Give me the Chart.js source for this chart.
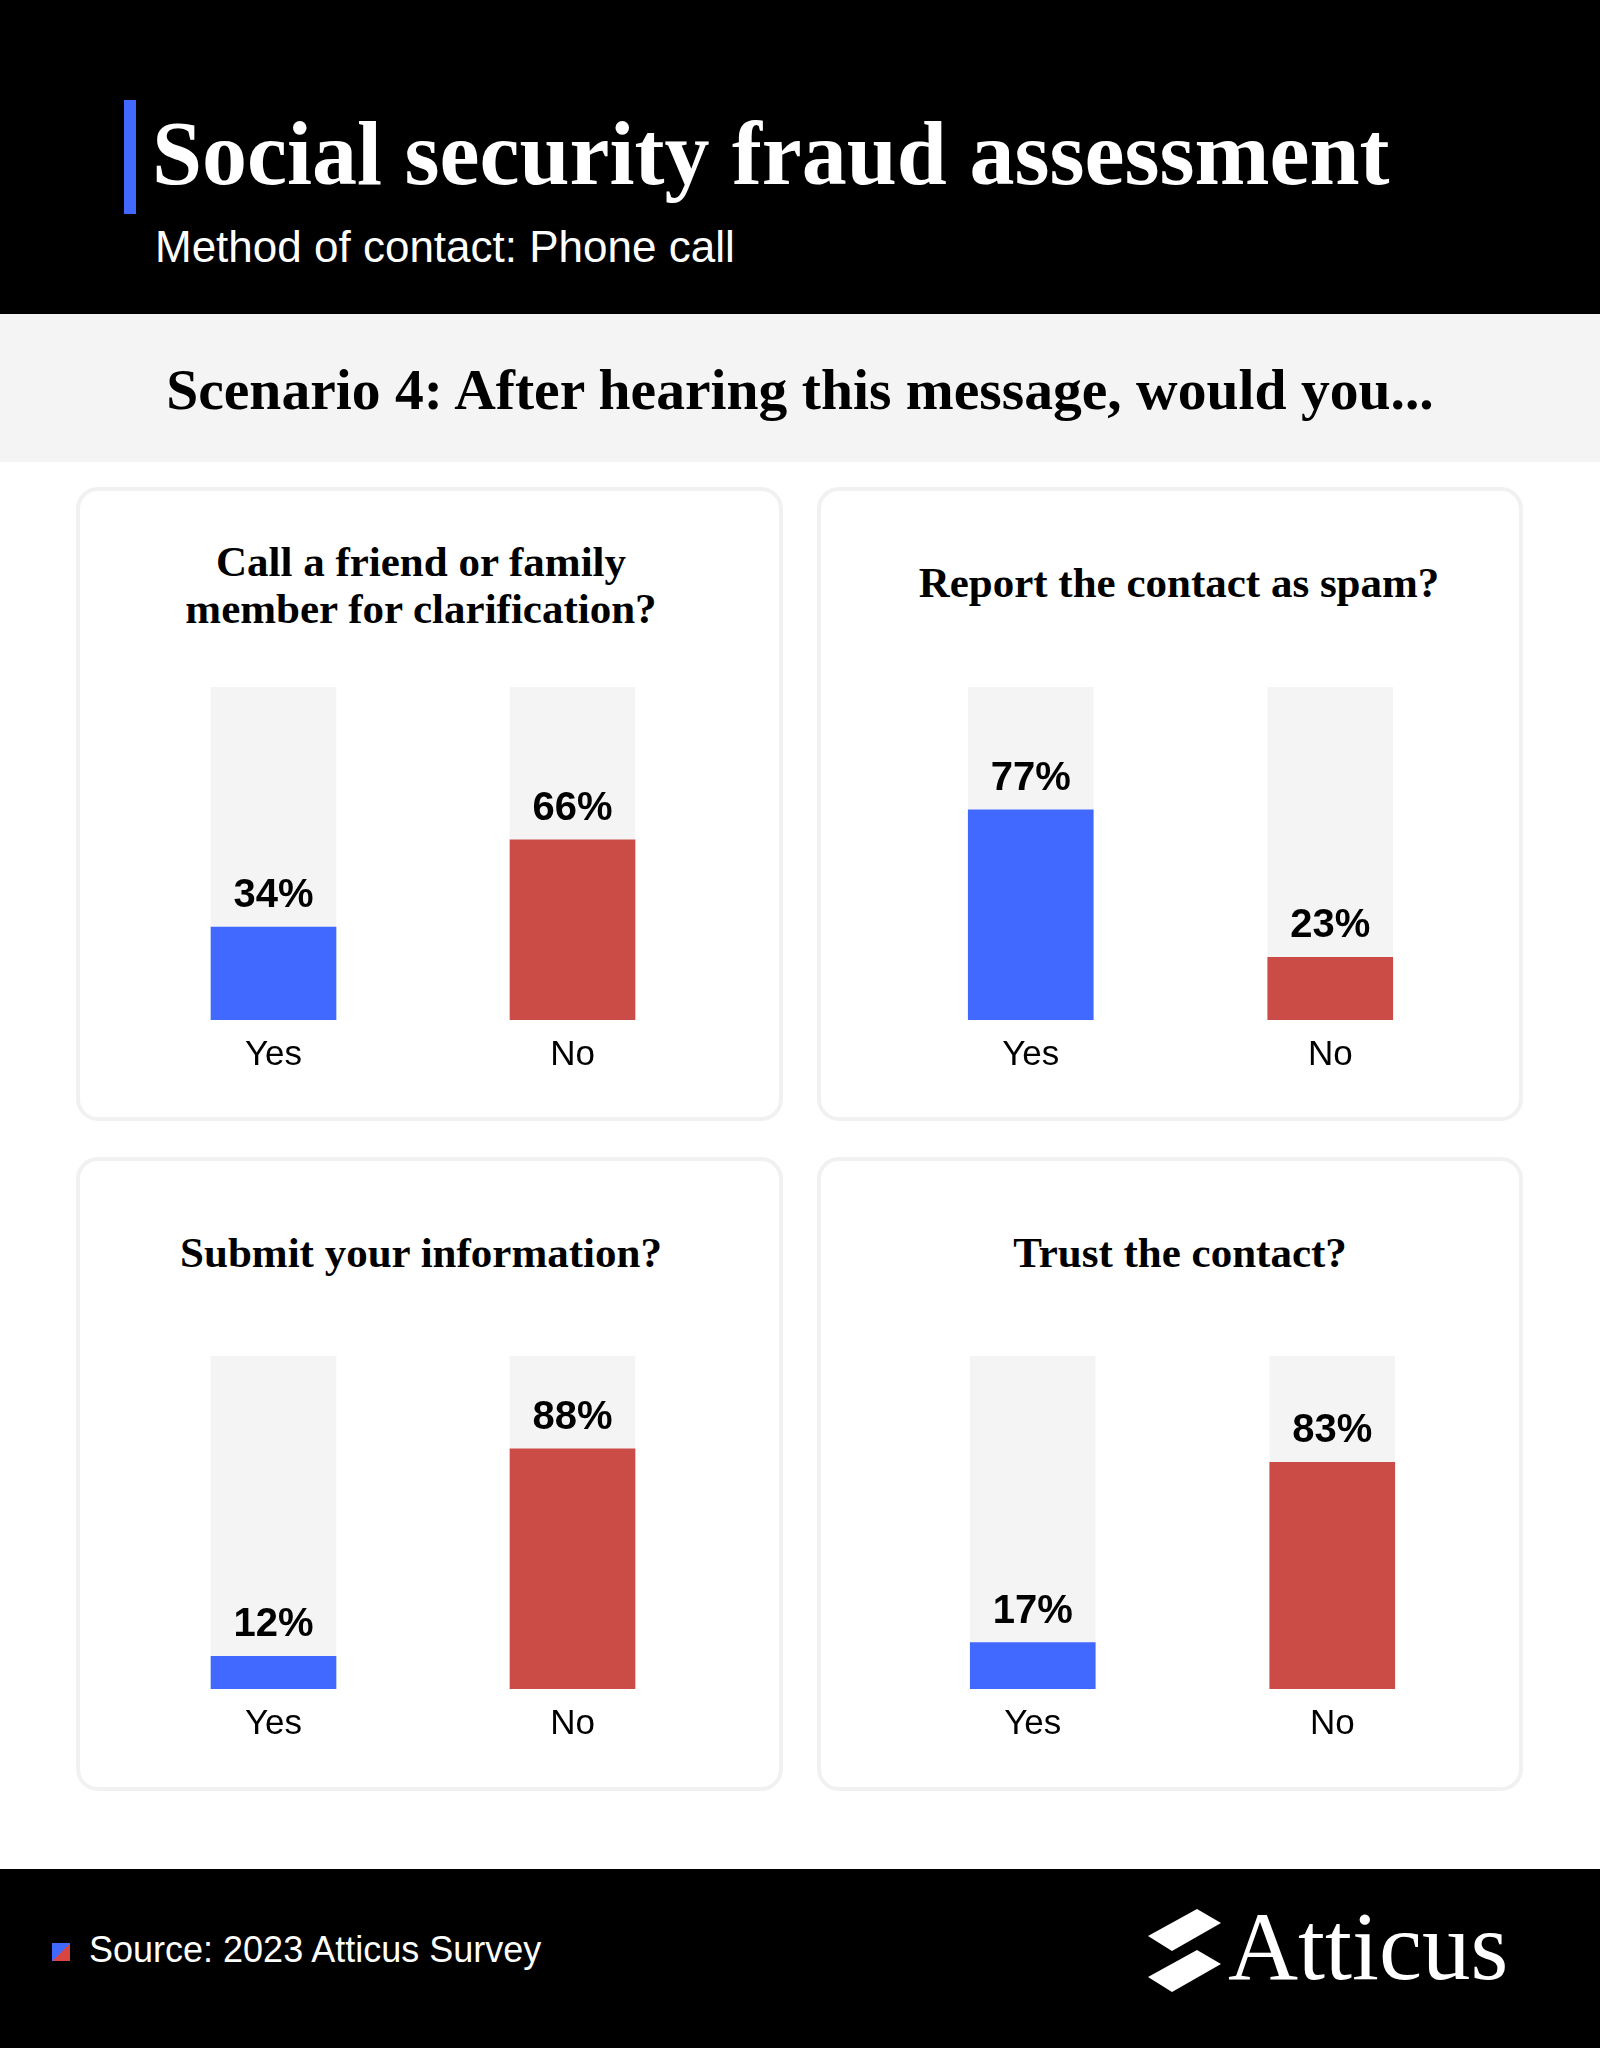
<!DOCTYPE html>
<html>
<head>
<meta charset="utf-8">
<script src="https://cdn.jsdelivr.net/npm/chart.js@4.4.1/dist/chart.umd.min.js"></script>
<style>
  html, body { margin: 0; padding: 0; }
  body { width: 1600px; height: 2048px; position: relative; background: #ffffff; overflow: hidden; }
  .abs { position: absolute; white-space: nowrap; line-height: 0; }
  .serif { font-family: "Liberation Serif", "Times New Roman", serif; }
  .sans { font-family: "Liberation Sans", Arial, sans-serif; }
  .center { text-align: center; width: 1000px; }
  .panel { position: absolute; box-sizing: border-box; border: 4px solid #f1f1f1; border-radius: 22px; background: #fff; }
</style>
</head>
<body>
  <!-- header -->
  <div style="position:absolute;left:0;top:0;width:1600px;height:314px;background:#000;"></div>
  <div style="position:absolute;left:124px;top:100px;width:12px;height:114px;background:#4169FF;"></div>
  <div class="abs serif" style="left:152px;top:153.6px;font-size:90px;font-weight:bold;color:#fff;">Social security fraud assessment</div>
  <div class="abs sans" style="left:155px;top:246.8px;font-size:44px;color:#fff;">Method of contact: Phone call</div>

  <!-- scenario band -->
  <div style="position:absolute;left:0;top:314px;width:1600px;height:148px;background:#f4f4f4;"></div>
  <div class="abs serif" style="left:0;width:1600px;text-align:center;top:389.6px;font-size:57.6px;font-weight:bold;color:#000;">Scenario 4: After hearing this message, would you...</div>

  <!-- panels -->
  <div class="panel" style="left:76px;top:487px;width:707px;height:634px;"></div>
  <div class="panel" style="left:817px;top:487px;width:706px;height:634px;"></div>
  <div class="panel" style="left:76px;top:1157px;width:707px;height:634px;"></div>
  <div class="panel" style="left:817px;top:1157px;width:706px;height:634px;"></div>

  <!-- footer -->
  <div style="position:absolute;left:0;top:1869px;width:1600px;height:179px;background:#000;"></div>
  <div style="position:absolute;left:52px;top:1943px;width:18px;height:18px;background:linear-gradient(to bottom right,#4169FF 50%,#D94642 50%);"></div>
  <div class="abs sans" style="left:89px;top:1949.5px;font-size:36px;color:#fff;">Source: 2023 Atticus Survey</div>
  <svg style="position:absolute;left:0;top:0;" width="1600" height="2048" viewBox="0 0 1600 2048">
    <polygon points="1148,1936 1197,1909 1221,1923 1172,1951" fill="#fff"/>
    <polygon points="1148,1977 1197,1950 1221,1964 1172,1992" fill="#fff"/>
  </svg>
  <div class="abs serif" style="left:1228px;top:1947.3px;font-size:97px;color:#fff;">Atticus</div>

<script>
// ---- data ----
const questions = [
  ["Call a friend or family", "member for clarification?"],
  ["Report the contact as spam?"],
  ["Submit your information?"],
  ["Trust the contact?"]
];
const categories = ["Yes", "No"];
const yesShares = [34, 77, 12, 17];
const noShares  = [66, 23, 88, 83];
const AXIS_MAX = 122;

// ---- styles / layout ----
const BLUE = "#4169FF", RED = "#CB4C46", TRACK = "#F4F4F4";
const TRACK_H = 333;
const AXIS_H = 80;
const TITLE_SIZE = 43;
const panelLayout = [
  { cYes: 273,    cNo: 572,    trackTop: 687,  titleX: 421,  titleBase: [577, 624] },
  { cYes: 1031,   cNo: 1330.5, trackTop: 687,  titleX: 1179, titleBase: [598] },
  { cYes: 273,    cNo: 572,    trackTop: 1356, titleX: 421,  titleBase: [1268] },
  { cYes: 1032.5, cNo: 1332,   trackTop: 1356, titleX: 1180, titleBase: [1268] }
];

const valueLabels = {
  id: 'valueLabels',
  afterDatasetsDraw(chart) {
    const ctx = chart.ctx;
    const meta = chart.getDatasetMeta(0);
    const data = chart.data.datasets[0].data;
    ctx.save();
    ctx.font = 'bold 40px "Liberation Sans", Arial, sans-serif';
    ctx.fillStyle = '#000';
    ctx.textAlign = 'center';
    ctx.textBaseline = 'alphabetic';
    meta.data.forEach((bar, j) => {
      ctx.fillText(data[j] + '%', bar.x, bar.y - 20);
    });
    ctx.restore();
  }
};

panelLayout.forEach((p, i) => {
  // title lines
  questions[i].forEach((line, k) => {
    const d = document.createElement('div');
    d.className = 'abs serif center';
    d.style.left = (p.titleX - 500) + 'px';
    d.style.top = (p.titleBase[k] - 0.3375 * TITLE_SIZE) + 'px';
    d.style.fontSize = TITLE_SIZE + 'px';
    d.style.fontWeight = 'bold';
    d.style.color = '#000';
    d.textContent = line;
    document.body.appendChild(d);
  });

  const spacing = p.cNo - p.cYes;
  const w = Math.round(spacing * 2);
  const left = p.cYes - spacing / 2;
  const h = TRACK_H + AXIS_H;
  const cv = document.createElement('canvas');
  cv.width = w; cv.height = h;
  cv.style.cssText = `position:absolute;left:${left}px;top:${p.trackTop}px;width:${w}px;height:${h}px;`;
  document.body.appendChild(cv);

  new Chart(cv, {
    type: 'bar',
    data: {
      labels: categories,
      datasets: [
        { data: [yesShares[i], noShares[i]], backgroundColor: [BLUE, RED], grouped: false, barThickness: 125, order: 0 },
        { data: categories.map(() => AXIS_MAX), backgroundColor: TRACK, grouped: false, barThickness: 125, order: 1 }
      ]
    },
    options: {
      responsive: false,
      animation: false,
      devicePixelRatio: 1,
      layout: { padding: 0 },
      plugins: { legend: { display: false }, tooltip: { enabled: false } },
      scales: {
        y: { display: false, min: 0, max: AXIS_MAX },
        x: {
          grid: { display: false, drawTicks: false },
          border: { display: false },
          ticks: { color: '#000', font: { family: '"Liberation Sans", Arial, sans-serif', size: 35 }, padding: 14 },
          afterFit: (s) => { s.height = AXIS_H; }
        }
      }
    },
    plugins: [valueLabels]
  });
});
</script>
</body>
</html>
